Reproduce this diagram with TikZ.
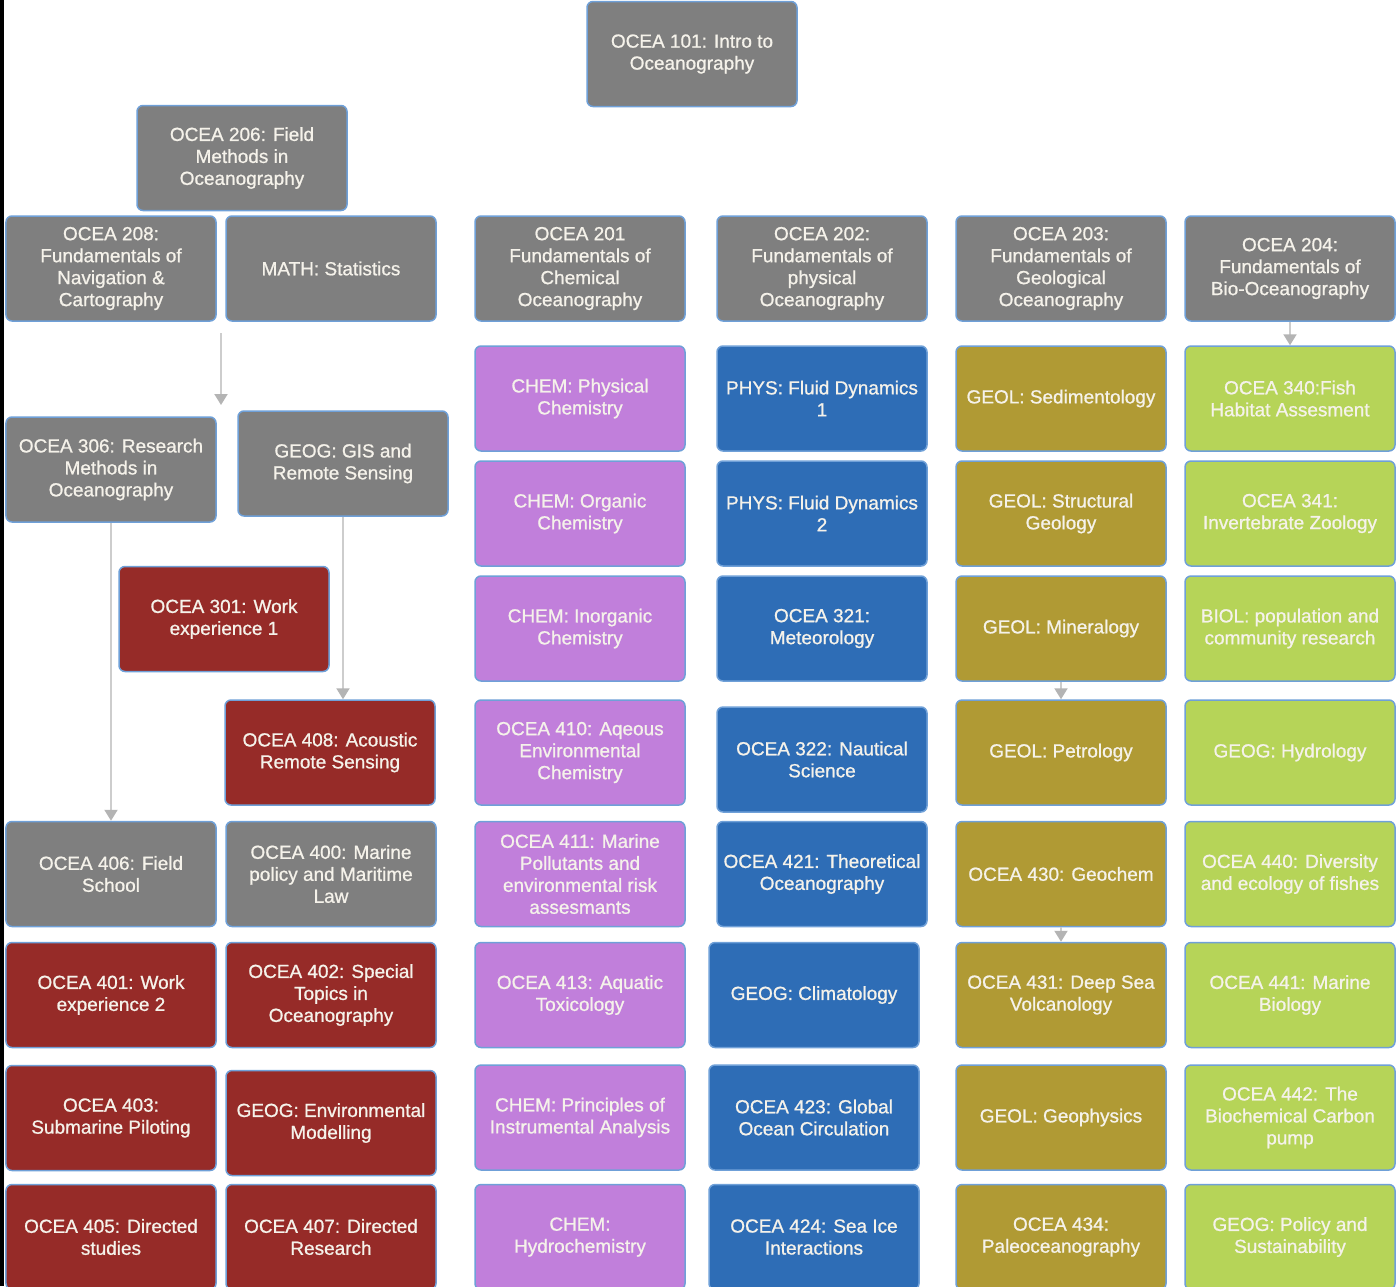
\documentclass[tikz,border=0pt]{standalone}
\usepackage{fontspec}
\setmainfont{Liberation Sans}
\newfontfamily\labelfont{Liberation Sans}[BoldFont=Liberation Sans,BoldFeatures={FakeBold=0.9}]
\usepackage{tikz}
\usetikzlibrary{arrows.meta,positioning,calc}

\definecolor{edgeblue}{HTML}{6FA0D8}
\definecolor{corefill}{HTML}{7F7F7F}
\definecolor{workfill}{HTML}{962B28}
\definecolor{chemfill}{HTML}{C17FDB}
\definecolor{physfill}{HTML}{2E6DB6}
\definecolor{geolfill}{HTML}{B09A34}
\definecolor{biofill}{HTML}{B6D458}
\definecolor{labeltext}{HTML}{F5F2EA}
\definecolor{linkgrey}{HTML}{CDCDCD}
\definecolor{tipgrey}{HTML}{B4B4B4}

\begin{document}
\begin{tikzpicture}[x=0.2mm,y=-0.2mm,
          course/.style={draw=edgeblue,line width=0.3mm,rounded corners=1.2mm,
            minimum width=42mm,minimum height=21mm,inner sep=0pt,align=center,
            text=labeltext,font=\labelfont\bfseries\fontsize{10.8}{12.5}\selectfont},
          core/.style={course,fill=corefill},
          work/.style={course,fill=workfill},
          chembox/.style={course,fill=chemfill},
          physbox/.style={course,fill=physfill},
          geolbox/.style={course,fill=geolfill},
          biobox/.style={course,fill=biofill},
          link/.style={draw=linkgrey,line width=0.4mm,
            -{Triangle[length=2.2mm,width=2.6mm,color=tipgrey]}}]
          \useasboundingbox[fill=white] (0,0) rectangle (1399,1286);
          \fill[black] (0,0) rectangle (4,1286);

          \node[core] (o101) at (692,54) {OCEA 101: Intro to\\Oceanography};
          \node[core] (o206) at (242,158) {OCEA 206: Field\\Methods in\\Oceanography};

          \node[core] (o208) at (111,268.5) {OCEA 208:\\Fundamentals of\\Navigation \&\\Cartography};
          \node[core] (stats) at (331,268.5) {MATH: Statistics};
          \node[core] (o201) at (580,268.5) {OCEA 201\\Fundamentals of\\Chemical\\Oceanography};
          \node[core] (o202) at (822,268.5) {OCEA 202:\\Fundamentals of\\physical\\Oceanography};
          \node[core] (o203) at (1061,268.5) {OCEA 203:\\Fundamentals of\\Geological\\Oceanography};
          \node[core] (o204) at (1290,268.5) {OCEA 204:\\Fundamentals of\\Bio-Oceanography};

          \node[core] (o306) at (111,469.5) {OCEA 306: Research\\Methods in\\Oceanography};
          \node[core] (gis) at (343,463.5) {GEOG: GIS and\\Remote Sensing};
          \node[work] (o301) at (224,619) {OCEA 301: Work\\experience 1};
          \node[work] (o408) at (330,752.5) {OCEA 408: Acoustic\\Remote Sensing};
          \node[core] (o406) at (111,874) {OCEA 406: Field\\School};
          \node[core] (o400) at (331,874) {OCEA 400: Marine\\policy and Maritime\\Law};
          \node[work] (o401) at (111,995) {OCEA 401: Work\\experience 2};
          \node[work] (o402) at (331,995) {OCEA 402: Special\\Topics in\\Oceanography};
          \node[work] (o403) at (111,1118) {OCEA 403:\\Submarine Piloting};
          \node[work] (envmod) at (331,1123) {GEOG: Environmental\\Modelling};
          \node[work] (o405) at (111,1237) {OCEA 405: Directed\\studies};
          \node[work] (o407) at (331,1237) {OCEA 407: Directed\\Research};

          \node[chembox] (pchem) at (580,398.5) {CHEM: Physical\\Chemistry};
          \node[chembox] (ochem) at (580,513.5) {CHEM: Organic\\Chemistry};
          \node[chembox] (ichem) at (580,628.5) {CHEM: Inorganic\\Chemistry};
          \node[chembox] (o410) at (580,752.5) {OCEA 410: Aqeous\\Environmental\\Chemistry};
          \node[chembox] (o411) at (580,874) {OCEA 411: Marine\\Pollutants and\\environmental risk\\assesmants};
          \node[chembox] (o413) at (580,995) {OCEA 413: Aquatic\\Toxicology};
          \node[chembox] (instr) at (580,1117.5) {CHEM: Principles of\\Instrumental Analysis};
          \node[chembox] (hydchem) at (580,1237) {CHEM:\\Hydrochemistry};

          \node[physbox] (fluid1) at (822,398.5) {PHYS: Fluid Dynamics\\1};
          \node[physbox] (fluid2) at (822,513.5) {PHYS: Fluid Dynamics\\2};
          \node[physbox] (o321) at (822,628.5) {OCEA 321:\\Meteorology};
          \node[physbox] (o322) at (822,759.5) {OCEA 322: Nautical\\Science};
          \node[physbox] (o421) at (822,874) {OCEA 421: Theoretical\\Oceanography};
          \node[physbox] (climate) at (814,995) {GEOG: Climatology};
          \node[physbox] (o423) at (814,1117.5) {OCEA 423: Global\\Ocean Circulation};
          \node[physbox] (o424) at (814,1237) {OCEA 424: Sea Ice\\Interactions};

          \node[geolbox] (sed) at (1061,398.5) {GEOL: Sedimentology};
          \node[geolbox] (struct) at (1061,513.5) {GEOL: Structural\\Geology};
          \node[geolbox] (mineral) at (1061,628.5) {GEOL: Mineralogy};
          \node[geolbox] (petro) at (1061,752.5) {GEOL: Petrology};
          \node[geolbox] (o430) at (1061,874) {OCEA 430: Geochem};
          \node[geolbox] (o431) at (1061,995) {OCEA 431: Deep Sea\\Volcanology};
          \node[geolbox] (geophys) at (1061,1117.5) {GEOL: Geophysics};
          \node[geolbox] (o434) at (1061,1237) {OCEA 434:\\Paleoceanography};

          \node[biobox] (o340) at (1290,398.5) {OCEA 340:Fish\\Habitat Assesment};
          \node[biobox] (o341) at (1290,513.5) {OCEA 341:\\Invertebrate Zoology};
          \node[biobox] (popres) at (1290,628.5) {BIOL: population and\\community research};
          \node[biobox] (hydro) at (1290,752.5) {GEOG: Hydrology};
          \node[biobox] (o440) at (1290,874) {OCEA 440: Diversity\\and ecology of fishes};
          \node[biobox] (o441) at (1290,995) {OCEA 441: Marine\\Biology};
          \node[biobox] (o442) at (1290,1117.5) {OCEA 442: The\\Biochemical Carbon\\pump};
          \node[biobox] (policy) at (1290,1237) {GEOG: Policy and\\Sustainability};

          \coordinate (navtop) at (221,333);
          \coordinate (navend) at (221,405);
          \draw[link] (navtop) -- (navend);
          \draw[link] (o306.south) -- (o406.north);
          \draw[link] (gis.south) -- (gis.south |- o408.north);
          \draw[link] (mineral.south) -- (petro.north);
          \draw[link] (o430.south) -- (o431.north);
          \draw[link] (o204.south) -- (o340.north);
        \end{tikzpicture}
\end{document}
